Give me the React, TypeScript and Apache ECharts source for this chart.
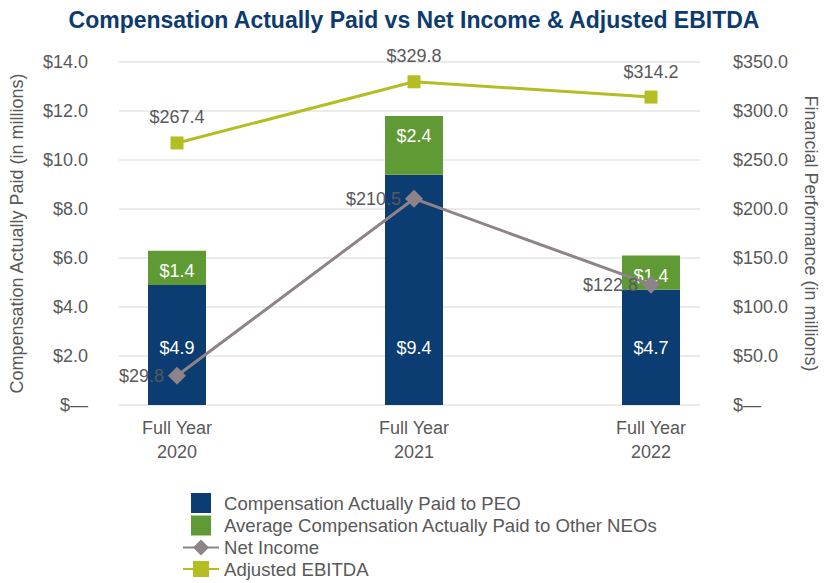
import React, { useEffect, useRef } from "react";
import * as echarts from "echarts";

const categories = ["Full Year\n2020", "Full Year\n2021", "Full Year\n2022"];
const peoComp = [4.9, 9.4, 4.7];
const neoComp = [1.4, 2.4, 1.4];
const netIncome = [29.8, 210.5, 122.8];
const adjEbitda = [267.4, 329.8, 314.2];

const NAVY = "#0b3c72";
const GREEN = "#609a35";
const OLIVE = "#b4bd22";
const MAUVE = "#8d8388";
const GRAY = "#595959";
const FONT = "'Liberation Sans', Arial, sans-serif";
const FS = 18;

const money1 = (v: number) => (v === 0 ? "$\u2014" : "$" + v.toFixed(1));

export default function App() {
  const ref = useRef<HTMLDivElement>(null);
  useEffect(() => {
    if (!ref.current) return;
    const chart = echarts.init(ref.current, null, { renderer: "svg" });
    const top = 62;
    const bottom = 178;
    chart.setOption({
      animation: false,
      backgroundColor: "#ffffff",
      textStyle: { fontFamily: FONT },
      title: {
        text: "Compensation Actually Paid vs Net Income & Adjusted EBITDA",
        left: "center",
        top: 3,
        textStyle: { color: "#0d3b6e", fontSize: 23, fontWeight: "bold", fontFamily: FONT },
      },
      legend: {
        orient: "vertical",
        left: 177,
        top: 488,
        itemWidth: 36,
        itemHeight: 20,
        itemGap: 2.5,
        textStyle: { color: GRAY, fontSize: 18.6, fontFamily: FONT },
        data: [
          { name: "Compensation Actually Paid to PEO", icon: "path://M0 0H20V20H0Z" },
          { name: "Average Compensation Actually Paid to Other NEOs", icon: "path://M0 0H20V20H0Z" },
          { name: "Net Income" },
          { name: "Adjusted EBITDA" },
        ],
      },
      grid: [
        { left: 58.5, right: 58.5, top, bottom, containLabel: false },
        { left: 118, right: 120, top, bottom, containLabel: false },
      ],
      xAxis: [
        {
          type: "category",
          gridIndex: 0,
          data: categories,
          boundaryGap: true,
          axisLine: { show: false },
          axisTick: { show: false },
          axisLabel: { color: GRAY, fontSize: FS, lineHeight: 24, margin: 11, fontFamily: FONT },
        },
        {
          type: "category",
          gridIndex: 1,
          data: categories,
          show: false,
        },
      ],
      yAxis: [
        {
          type: "value",
          gridIndex: 1,
          min: 0,
          max: 14,
          interval: 2,
          position: "left",
          name: "Compensation Actually Paid (in millions)",
          nameLocation: "middle",
          nameGap: 93,
          nameTextStyle: { color: GRAY, fontSize: FS, fontFamily: FONT },
          axisLine: { show: false },
          axisTick: { show: false },
          axisLabel: { color: GRAY, fontSize: FS, margin: 31, formatter: money1, fontFamily: FONT },
          splitLine: { lineStyle: { color: "#e4e4e4", width: 1.5 } },
        },
        {
          type: "value",
          gridIndex: 1,
          min: 0,
          max: 350,
          interval: 50,
          position: "right",
          name: "Financial Performance (in millions)",
          nameLocation: "middle",
          nameGap: 102,
          nameRotate: -90,
          nameTextStyle: { color: GRAY, fontSize: FS, fontFamily: FONT },
          axisLine: { show: false },
          axisTick: { show: false },
          axisLabel: { color: GRAY, fontSize: FS, margin: 33, formatter: money1, fontFamily: FONT },
          splitLine: { show: false },
        },
        { type: "value", gridIndex: 0, min: 0, max: 14, interval: 2, show: false },
        { type: "value", gridIndex: 0, min: 0, max: 350, interval: 50, show: false },
      ],
      series: [
        {
          name: "Compensation Actually Paid to PEO",
          type: "bar",
          xAxisIndex: 0,
          yAxisIndex: 2,
          stack: "comp",
          barWidth: 58,
          data: peoComp,
          itemStyle: { color: NAVY },
          label: {
            show: true,
            position: "insideBottom",
            distance: 48,
            color: "#ffffff",
            fontSize: FS,
            fontFamily: FONT,
            formatter: (p: any) => money1(p.value),
          },
        },
        {
          name: "Average Compensation Actually Paid to Other NEOs",
          type: "bar",
          xAxisIndex: 0,
          yAxisIndex: 2,
          stack: "comp",
          barWidth: 58,
          data: neoComp,
          itemStyle: { color: GREEN },
          label: {
            show: true,
            position: "insideTop",
            distance: 11,
            color: "#ffffff",
            fontSize: FS,
            fontFamily: FONT,
            formatter: (p: any) => money1(p.value),
          },
        },
        {
          name: "Adjusted EBITDA",
          type: "line",
          xAxisIndex: 0,
          yAxisIndex: 3,
          data: adjEbitda,
          symbol: "rect",
          symbolSize: 13,
          lineStyle: { color: OLIVE, width: 3 },
          itemStyle: { color: OLIVE },
          label: {
            show: true,
            position: "top",
            distance: 10,
            color: GRAY,
            fontSize: FS,
            fontFamily: FONT,
            formatter: (p: any) => money1(p.value),
          },
        },
        {
          name: "Net Income",
          type: "line",
          xAxisIndex: 0,
          yAxisIndex: 3,
          data: netIncome,
          symbol: "diamond",
          symbolSize: 18,
          lineStyle: { color: MAUVE, width: 3 },
          itemStyle: { color: MAUVE },
          label: {
            show: true,
            position: "left",
            distance: 4,
            color: GRAY,
            fontSize: FS,
            fontFamily: FONT,
            formatter: (p: any) => money1(p.value),
          },
        },
      ],
    });
    return () => chart.dispose();
  }, []);
  return (
    <div
      ref={ref}
      style={{ position: "absolute", left: 0, top: 0, width: 828, height: 583, background: "#fff" }}
    />
  );
}
